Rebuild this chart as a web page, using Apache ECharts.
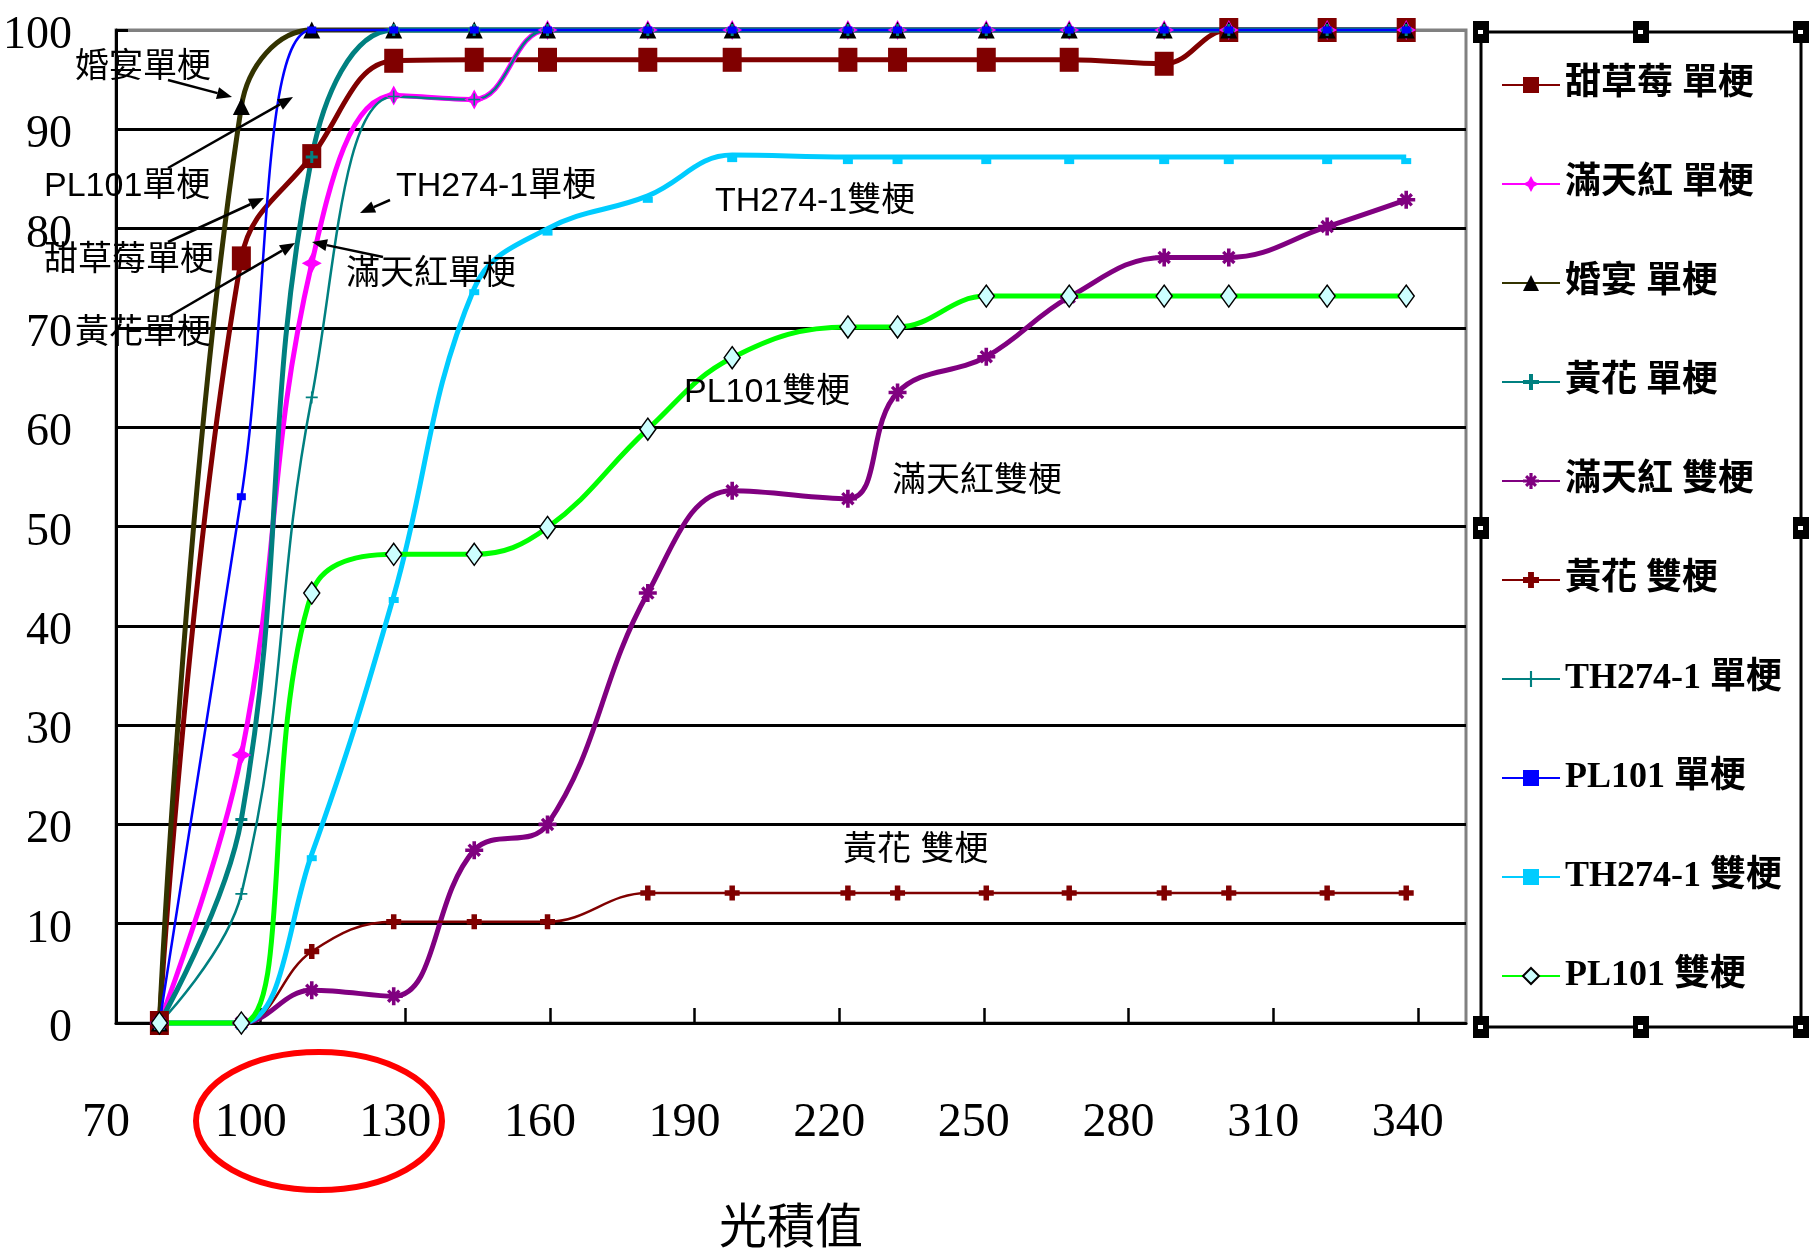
<!DOCTYPE html>
<html><head><meta charset="utf-8">
<script src="https://cdn.jsdelivr.net/npm/echarts@6/dist/echarts.min.js"></script>
<style>html,body{margin:0;padding:0;background:#fff}#c{width:1812px;height:1257px}</style>
</head><body><div id="c"></div><script>
// ---- data ----
const xValues = [79, 96, 110.6, 127.6, 144.3, 159.5, 180.3, 197.8, 221.8, 232.1, 250.5, 267.7, 287.4, 300.8, 321.2, 337.6];
const xTicks = [70, 100, 130, 160, 190, 220, 250, 280, 310, 340];
const yTicks = [0, 10, 20, 30, 40, 50, 60, 70, 80, 90, 100];
const seriesNames = ['甜草莓 單梗', '滿天紅 單梗', '婚宴 單梗', '黃花 單梗', '滿天紅 雙梗', '黃花 雙梗', 'TH274-1 單梗', 'PL101 單梗', 'TH274-1 雙梗', 'PL101 雙梗'];
const strawberrySingle = [0, 77, 87.3, 96.9, 97, 97, 97, 97, 97, 97, 97, 97, 96.6, 100, 100, 100];
const manTianHongSingle = [0, 27, 76.5, 93.4, 93, 100, 100, 100, 100, 100, 100, 100, 100, 100, 100, 100];
const weddingSingle = [0, 92.3, 100, 100, 100, 100, 100, 100, 100, 100, 100, 100, 100, 100, 100, 100];
const huangHuaSingle = [0, 20.5, 87.2, 100, 100, 100, 100, 100, 100, 100, 100, 100, 100, 100, 100, 100];
const manTianHongDouble = [0, 0, 3.3, 2.7, 17.4, 20, 43.3, 53.6, 52.8, 63.5, 67.1, 73.1, 77.1, 77.1, 80.2, 82.9];
const huangHuaDouble = [0, 0, 7.2, 10.2, 10.2, 10.2, 13.1, 13.1, 13.1, 13.1, 13.1, 13.1, 13.1, 13.1, 13.1, 13.1];
const th274Single = [0, 13, 63, 93.3, 93, 100, 100, 100, 100, 100, 100, 100, 100, 100, 100, 100];
const pl101Single = [0, 53, 100, 100, 100, 100, 100, 100, 100, 100, 100, 100, 100, 100, 100, 100];
const th274Double = [0, 0, 17, 43, 74, 80, 83.3, 87.4, 87.2, 87.2, 87.2, 87.2, 87.2, 87.2, 87.2, 87.2];
const pl101Double = [0, 0, 43.3, 47.2, 47.2, 49.9, 59.8, 67, 70.1, 70.1, 73.2, 73.2, 73.2, 73.2, 73.2, 73.2];
const xAxisName = '光積值';
const notes = [
  {text: '婚宴單梗', x: 75, y: 68, from: [168, 80], to: [232, 97]},
  {text: 'PL101單梗', x: 44, y: 187, from: [168, 168], to: [293, 97]},
  {text: '甜草莓單梗', x: 44, y: 261, from: [168, 242], to: [264, 198]},
  {text: '黃花單梗', x: 75, y: 334, from: [168, 317], to: [295, 243]},
  {text: 'TH274-1單梗', x: 396, y: 187, from: [390, 200], to: [360, 213]},
  {text: '滿天紅單梗', x: 346, y: 275, from: [383, 257], to: [312, 242]},
  {text: 'TH274-1雙梗', x: 715, y: 202},
  {text: 'PL101雙梗', x: 684, y: 393},
  {text: '滿天紅雙梗', x: 892, y: 482},
  {text: '黃花 雙梗', x: 843, y: 851}
];

// ---- styles ----
const NUM_FONT = '"Liberation Serif", serif';
const CJK_FONT = '"Liberation Sans", "Noto Sans CJK TC", sans-serif';
const P_STAR = 'path://M0,-10 L3.5,-3.5 L10,0 L3.5,3.5 L0,10 L-3.5,3.5 L-10,0 L-3.5,-3.5 Z';
const P_PLUS = 'path://M-1.5,-6 L1.5,-6 L1.5,-1.5 L6,-1.5 L6,1.5 L1.5,1.5 L1.5,6 L-1.5,6 L-1.5,1.5 L-6,1.5 L-6,-1.5 L-1.5,-1.5 Z';
const P_PLUS_THICK = 'path://M-2.2,-6 L2.2,-6 L2.2,-2.2 L6,-2.2 L6,2.2 L2.2,2.2 L2.2,6 L-2.2,6 L-2.2,2.2 L-6,2.2 L-6,-2.2 L-2.2,-2.2 Z';
const P_PLUS_THIN = 'path://M-0.8,-6 L0.8,-6 L0.8,-0.8 L6,-0.8 L6,0.8 L0.8,0.8 L0.8,6 L-0.8,6 L-0.8,0.8 L-6,0.8 L-6,-0.8 L-0.8,-0.8 Z';
const P_AST = 'path://M-1.2,-6 L1.2,-6 L1.2,6 L-1.2,6 Z M-6,-1.2 L6,-1.2 L6,1.2 L-6,1.2 Z M-4.5,-2.9 L-2.9,-4.5 L4.5,2.9 L2.9,4.5 Z M2.9,-4.5 L4.5,-2.9 L-2.9,4.5 L-4.5,2.9 Z';

const styles = [
  {line: '#800000', width: 5, symbol: 'rect', size: [19, 24], fill: '#800000'},
  {line: '#FF00FF', width: 5, symbol: P_STAR, size: 20, fill: '#FF00FF'},
  {line: '#333300', width: 5, symbol: 'triangle', size: [17, 17], fill: '#000000'},
  {line: '#008080', width: 5, symbol: P_PLUS, size: 12, fill: '#008080'},
  {line: '#800080', width: 5, symbol: P_AST, size: 18, fill: '#800080'},
  {line: '#800000', width: 2.5, symbol: P_PLUS_THICK, size: 15, fill: '#800000'},
  {line: '#008080', width: 2.5, symbol: P_PLUS_THIN, size: 12, fill: '#008080'},
  {line: '#0000FF', width: 2.5, symbol: 'rect', size: [9, 7], fill: '#0000FF'},
  {line: '#00CCFF', width: 5, symbol: 'rect', size: [10, 6], fill: '#00CCFF', offset: [0, 4]},
  {line: '#00FF00', width: 5, symbol: 'diamond', size: [16, 22], fill: '#CCFFFF', border: '#000000'}
];
const values = [strawberrySingle, manTianHongSingle, weddingSingle, huangHuaSingle, manTianHongDouble,
  huangHuaDouble, th274Single, pl101Single, th274Double, pl101Double];

const series = seriesNames.map((name, i) => {
  const s = styles[i];
  return {
    name: name,
    type: 'line',
    smooth: 0.4,
    clip: false,
    data: xValues.map((x, j) => [x, values[i][j]]),
    symbol: s.symbol,
    symbolSize: s.size,
    symbolOffset: s.offset || [0, 0],
    showAllSymbol: true,
    lineStyle: {color: s.line, width: s.width},
    itemStyle: {color: s.fill, borderColor: s.border || s.fill, borderWidth: s.border ? 1.5 : 0, opacity: 1},
    emphasis: {disabled: true}
  };
});

// ---- annotations ----
const graphics = [];
notes.forEach(n => {
  graphics.push({type: 'text', x: n.x, y: n.y, z: 100,
    style: {text: n.text, fill: '#000', font: '34px ' + CJK_FONT, textVerticalAlign: 'middle', textAlign: 'left'}});
  if (n.from) {
    const [x1, y1] = n.from, [x2, y2] = n.to;
    const ang = Math.atan2(y2 - y1, x2 - x1);
    const L = 15, W = 6;
    const bx = x2 - L * Math.cos(ang), by = y2 - L * Math.sin(ang);
    graphics.push({type: 'line', z: 100, shape: {x1: x1, y1: y1, x2: bx, y2: by}, style: {stroke: '#000', lineWidth: 2.5}});
    graphics.push({type: 'polygon', z: 100, shape: {points: [[x2, y2],
      [bx + W * Math.sin(ang), by - W * Math.cos(ang)], [bx - W * Math.sin(ang), by + W * Math.cos(ang)]]},
      style: {fill: '#000'}});
  }
});
// red ellipse
graphics.push({type: 'ellipse', z: 100, shape: {cx: 319, cy: 1121, rx: 123, ry: 69}, style: {fill: 'none', stroke: '#FF0000', lineWidth: 6}});
// legend frame and selection handles
graphics.push({type: 'rect', z: 90, shape: {x: 1481, y: 32, width: 320, height: 995}, style: {fill: 'none', stroke: '#000', lineWidth: 3}});
[[1481, 32], [1641, 32], [1801, 32], [1481, 528], [1801, 528], [1481, 1027], [1641, 1027], [1801, 1027]].forEach(p => {
  graphics.push({type: 'rect', z: 91, shape: {x: p[0] - 8, y: p[1] - 11, width: 16, height: 22}, style: {fill: '#000'}});
  graphics.push({type: 'rect', z: 92, shape: {x: p[0] - 3, y: p[1] - 2, width: 5, height: 4}, style: {fill: '#fff'}});
});

const chart = echarts.init(document.getElementById('c'), null, {renderer: 'canvas'});
chart.setOption({
  animation: false,
  backgroundColor: '#ffffff',
  grid: {left: 112, right: 346, top: 30, bottom: 234, show: true, borderColor: '#808080', borderWidth: 3, backgroundColor: 'transparent'},
  xAxis: {
    type: 'value', min: 70, max: 350, interval: 30,
    name: xAxisName, nameLocation: 'middle', nameGap: 178,
    nameTextStyle: {fontSize: 48, color: '#000', fontFamily: '"Noto Sans CJK TC", sans-serif'},
    axisLine: {show: true, onZero: false, lineStyle: {color: '#000', width: 3}},
    axisTick: {show: true, inside: true, length: 15, lineStyle: {color: '#000', width: 2.5}, customValues: xTicks},
    axisLabel: {show: true, margin: 76, fontSize: 48, color: '#000', fontFamily: NUM_FONT,
      padding: [0, 20, 0, 0], customValues: xTicks},
    splitLine: {show: false}
  },
  yAxis: {
    type: 'value', min: 0, max: 100, interval: 10,
    axisLine: {show: true, lineStyle: {color: '#000', width: 3}},
    axisTick: {show: true, inside: true, length: 12, lineStyle: {color: '#000', width: 3}, customValues: yTicks},
    axisLabel: {show: true, margin: 44, fontSize: 46, color: '#000', fontFamily: NUM_FONT,
      verticalAlign: 'top', lineHeight: 12, customValues: yTicks},
    splitLine: {show: true, lineStyle: {width: 3, color: ['#000', '#000', '#000', '#000', '#000', '#000', '#000', '#000', '#000', '#000', '#808080']}}
  },
  legend: {
    orient: 'vertical', left: 1496, top: 60, itemWidth: 58, itemHeight: 20, itemGap: 59,
    selectedMode: false,
    textStyle: {fontSize: 36, lineHeight: 40, fontWeight: 'bold', color: '#000', fontFamily: '"Liberation Serif", "Noto Sans CJK TC", serif'},
    data: seriesNames
  },
  series: series,
  graphic: graphics
});
</script></body></html>
